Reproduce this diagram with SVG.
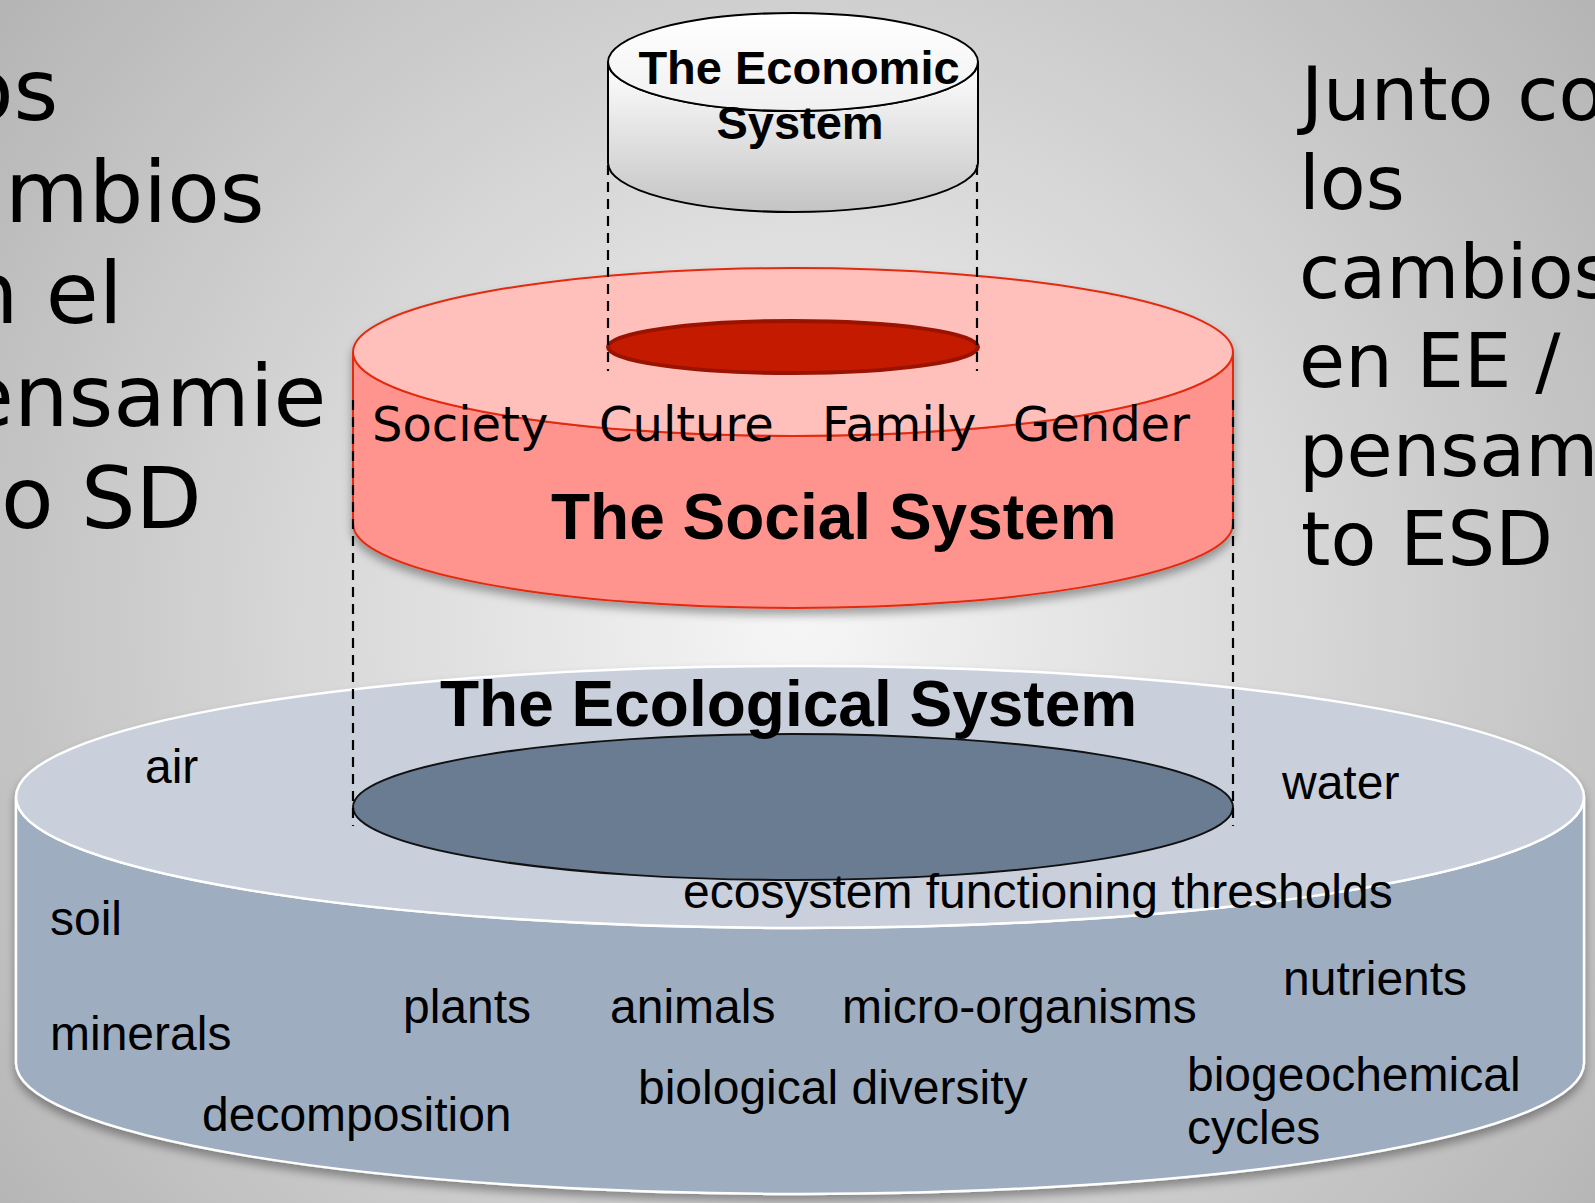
<svg xmlns="http://www.w3.org/2000/svg" width="1595" height="1203" viewBox="0 0 1595 1203">
<defs>
  <radialGradient id="bg" gradientUnits="userSpaceOnUse" cx="800" cy="620" r="1150">
    <stop offset="0" stop-color="#f6f6f6"/>
    <stop offset="0.45" stop-color="#d6d6d6"/>
    <stop offset="1" stop-color="#ababab"/>
  </radialGradient>
  <linearGradient id="ecoSide" x1="0" y1="0" x2="0" y2="1">
    <stop offset="0" stop-color="#ffffff"/>
    <stop offset="1" stop-color="#c4c4c4"/>
  </linearGradient>
  <linearGradient id="ecoTop" x1="0" y1="0" x2="0" y2="1">
    <stop offset="0" stop-color="#ffffff"/>
    <stop offset="1" stop-color="#f0f0f0"/>
  </linearGradient>
  <filter id="sh" x="-10%" y="-10%" width="120%" height="135%">
    <feGaussianBlur in="SourceAlpha" stdDeviation="5"/>
    <feOffset dy="6" result="o"/>
    <feComponentTransfer><feFuncA type="linear" slope="0.35"/></feComponentTransfer>
    <feMerge><feMergeNode/><feMergeNode in="SourceGraphic"/></feMerge>
  </filter>
  <style>
    .big { font-family: "DejaVu Sans", Verdana, sans-serif; font-size: 86px; fill: #000; }
    .bigR { font-family: "DejaVu Sans", Verdana, sans-serif; font-size: 75px; fill: #000; }
    .soc { font-family: "DejaVu Sans", Verdana, sans-serif; font-size: 48px; fill: #000; }
    .title { font-family: "Liberation Sans", Arial, sans-serif; font-weight: bold; fill: #000; }
    .eco { font-family: "Liberation Sans", Arial, sans-serif; font-size: 48px; fill: #000; }
    .dash { stroke: #000; stroke-width: 2.2; stroke-dasharray: 10 7; fill: none; }
  </style>
</defs>

<rect x="0" y="0" width="1595" height="1203" fill="url(#bg)"/>

<!-- side texts -->
<g id="left-text">
  <text class="big" x="-39" y="120">os</text>
  <text class="big" x="5" y="222">mbios</text>
  <text class="big" x="-36" y="323">n el</text>
  <text class="big" x="-39" y="426">ensamie</text>
  <text class="big" x="1" y="528">o SD</text>
</g>
<g id="right-text">
  <text class="bigR" x="1301" y="120">Junto co</text>
  <text class="bigR" x="1299" y="209">los</text>
  <text class="bigR" x="1299" y="298">cambios</text>
  <text class="bigR" x="1299" y="387">en EE /</text>
  <text class="bigR" x="1299" y="476">pensam</text>
  <text class="bigR" x="1301" y="565">to ESD</text>
</g>

<!-- Ecological system -->
<g id="ecological-system">
  <g filter="url(#sh)">
    <path d="M16,797 L16,1063 A784,131 0 0 0 1584,1063 L1584,797 A784,131 0 0 1 16,797 Z" fill="#9eaec0" stroke="#ffffff" stroke-width="2.5"/>
    <ellipse cx="800" cy="797" rx="784" ry="131" fill="#c9d0dc" stroke="#ffffff" stroke-width="2.5"/>
  </g>
  <ellipse cx="793" cy="807" rx="440" ry="73" fill="#6a7c92" stroke="#111" stroke-width="2"/>
  <text class="title" x="440" y="726" font-size="64">The Ecological System</text>
  <text class="eco" x="145" y="783">air</text>
  <text class="eco" x="1282" y="799">water</text>
  <text class="eco" x="683" y="908">ecosystem functioning thresholds</text>
  <text class="eco" x="50" y="935">soil</text>
  <text class="eco" x="50" y="1050">minerals</text>
  <text class="eco" x="403" y="1023">plants</text>
  <text class="eco" x="610" y="1023">animals</text>
  <text class="eco" x="842" y="1023">micro-organisms</text>
  <text class="eco" x="1283" y="995">nutrients</text>
  <text class="eco" x="638" y="1104">biological diversity</text>
  <text class="eco" x="202" y="1131">decomposition</text>
  <text class="eco" x="1187" y="1091">biogeochemical</text>
  <text class="eco" x="1187" y="1144">cycles</text>
</g>

<!-- Social system -->
<g id="social-system">
  <g filter="url(#sh)">
    <path d="M353,352 L353,524 A440,84 0 0 0 1233,524 L1233,352 A440,84 0 0 1 353,352 Z" fill="#ff938e" stroke="#e32a10" stroke-width="2"/>
    <ellipse cx="793" cy="352" rx="440" ry="84" fill="#ffbfbb" stroke="#e32a10" stroke-width="2"/>
  </g>
  <ellipse cx="793" cy="347" rx="185" ry="26" fill="#c41a00" stroke="#9a1200" stroke-width="4"/>
  <text class="soc" x="372" y="441">Society</text>
  <text class="soc" x="599" y="441">Culture</text>
  <text class="soc" x="822" y="441">Family</text>
  <text class="soc" x="1013" y="441">Gender</text>
  <text class="title" x="551" y="539" font-size="64">The Social System</text>
</g>

<!-- Economic system -->
<g id="economic-system">
  <path d="M608,62 L608,163 A185,49 0 0 0 978,163 L978,62 A185,49 0 0 1 608,62 Z" fill="url(#ecoSide)" stroke="#000" stroke-width="2"/>
  <ellipse cx="793" cy="62" rx="185" ry="49" fill="url(#ecoTop)" stroke="#000" stroke-width="2"/>
  <text class="title" x="799" y="84" font-size="47" text-anchor="middle">The Economic</text>
  <text class="title" x="800" y="139" font-size="47" text-anchor="middle">System</text>
</g>

<!-- connectors -->
<g id="connectors">
  <line class="dash" x1="608" y1="165" x2="608" y2="371"/>
  <line class="dash" x1="977" y1="165" x2="977" y2="371"/>
  <line class="dash" x1="353" y1="400" x2="353" y2="826"/>
  <line class="dash" x1="1233" y1="400" x2="1233" y2="826"/>
</g>
</svg>
